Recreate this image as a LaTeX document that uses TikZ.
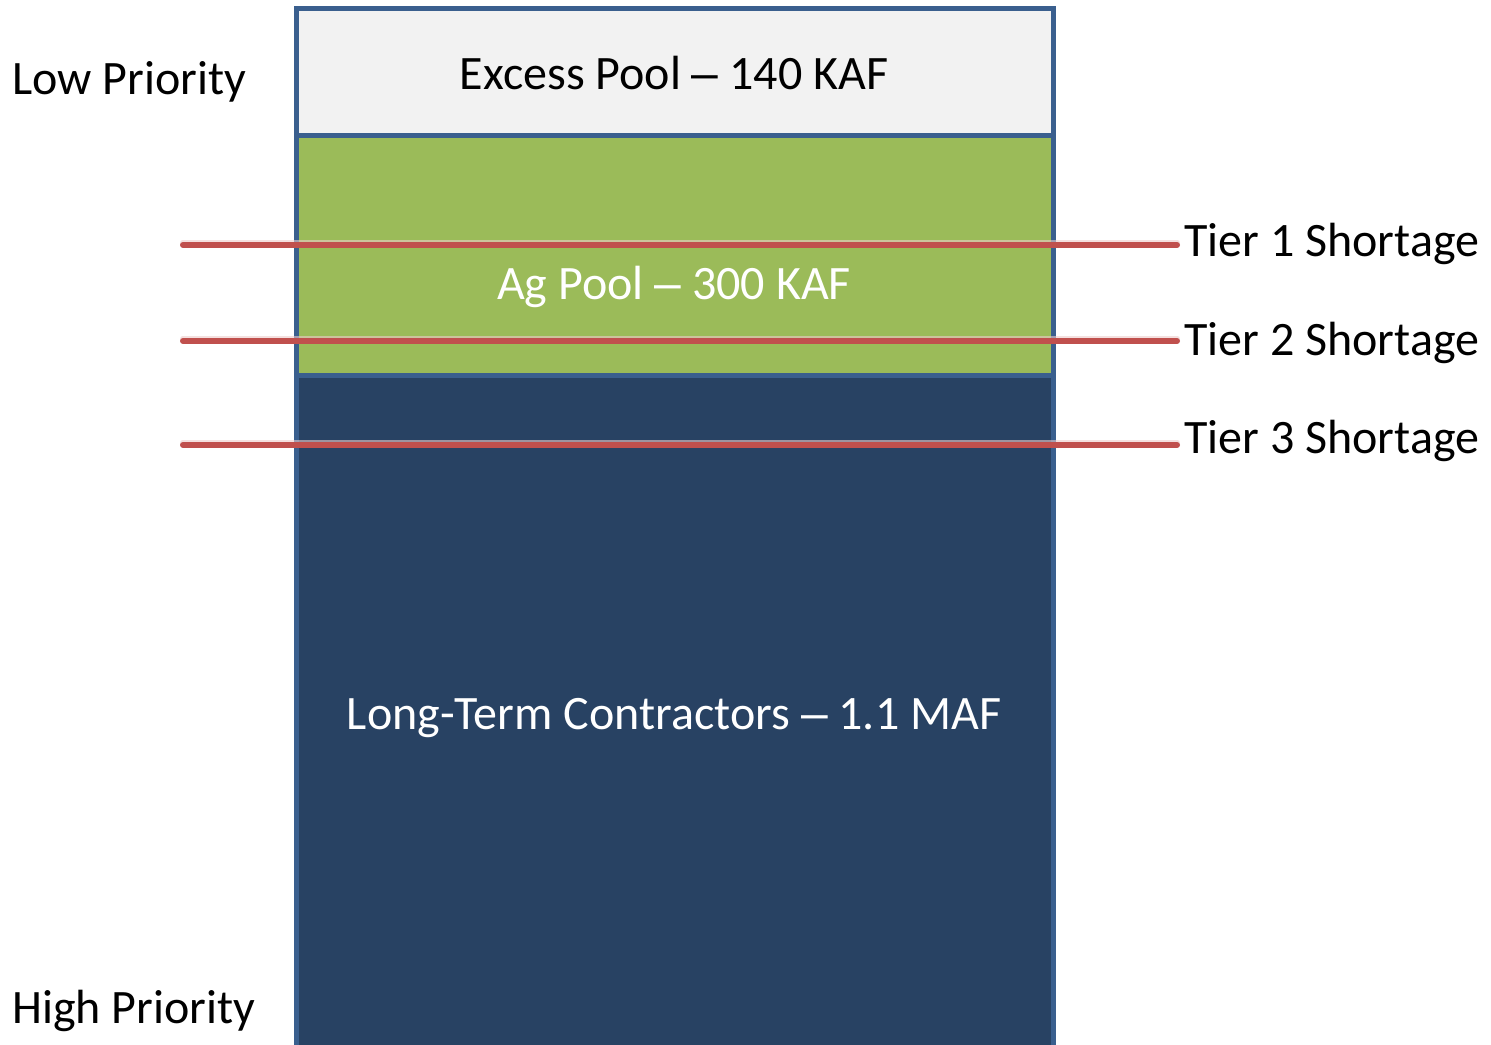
\documentclass[tikz,border=0pt]{standalone}
\usepackage{fontspec}
\setmainfont{Carlito}
\newfontfamily\dashfont{Liberation Sans}
\newcommand\mydash{{\dashfont –}}
\definecolor{bordc}{HTML}{3A5F8E}
\definecolor{lightc}{HTML}{F2F2F2}
\definecolor{greenc}{HTML}{9BBB59}
\definecolor{darkc}{HTML}{284263}
\definecolor{redc}{HTML}{C0504D}
\begin{document}
\begin{tikzpicture}[x=1pt,y=-1pt,
  pool/.style={draw=bordc,line width=5pt,inner sep=0pt,outer sep=0pt},
  lbl/.style={font=\fontsize{48}{56}\selectfont,inner sep=0pt},
  tier/.style={draw=redc,line width=6pt,line cap=round}]
\useasboundingbox (0,0) rectangle (1491,1044);
\begin{scope}
\clip (0,0) rectangle (1491,1044);
\node[pool,fill=darkc,minimum width=757pt,minimum height=720pt,anchor=north west] (lt) at (296,375) {};
\node[pool,fill=greenc,minimum width=757pt,minimum height=240pt,anchor=north west] (ag) at (296,135) {};
\node[pool,fill=lightc,minimum width=757pt,minimum height=127pt,anchor=north west] (ex) at (296,8) {};
\end{scope}
\node[lbl,anchor=base] (extxt) at (674,89) {Excess Pool \mydash{} 140 KAF};
\node[lbl,anchor=base,text=white] (agtxt) at (674,299) {Ag Pool \mydash{} 300 KAF};
\node[lbl,anchor=base,text=white] (lttxt) at (674,729) {Long-Term Contractors \mydash{} 1.1 MAF};
\node[lbl,anchor=base west] (low) at (12,94) {Low Priority};
\node[lbl,anchor=base west] (high) at (12,1023) {High Priority};
\coordinate (t1a) at (183,245); \coordinate (t1b) at (1177,245);
\coordinate (t2a) at (183,341); \coordinate (t2b) at (1177,341);
\coordinate (t3a) at (183,445); \coordinate (t3b) at (1177,445);
\foreach \a/\b in {t1a/t1b,t2a/t2b,t3a/t3b}{
  \draw[draw=redc!30,line width=6pt,line cap=round,opacity=0.6] ([yshift=2.5pt]\a) -- ([yshift=2.5pt]\b);
  \draw[tier] (\a) -- (\b);
}
\node[lbl,anchor=base west] (tier1) at (1184,256) {Tier 1 Shortage};
\node[lbl,anchor=base west] (tier2) at (1184,355) {Tier 2 Shortage};
\node[lbl,anchor=base west] (tier3) at (1184,453) {Tier 3 Shortage};
\end{tikzpicture}
\end{document}
